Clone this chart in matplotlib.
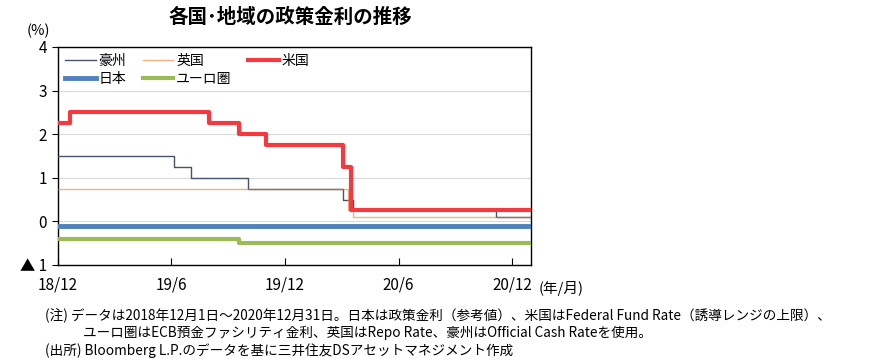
import matplotlib
matplotlib.use("Agg")
import matplotlib.pyplot as plt
import matplotlib.dates as mdates
from datetime import date

plt.rcParams['font.family'] = ['Noto Sans CJK JP', 'DejaVu Sans']

start = date(2018, 12, 1)
end = date(2020, 12, 31)

# policy rate change dates and levels (%)
aus_dates = [date(2018, 12, 1), date(2019, 6, 5), date(2019, 7, 3), date(2019, 10, 2),
             date(2020, 3, 4), date(2020, 3, 20), date(2020, 11, 4)]
aus_rates = [1.50, 1.25, 1.00, 0.75, 0.50, 0.25, 0.10]

uk_dates = [date(2018, 12, 1), date(2020, 3, 11), date(2020, 3, 19)]
uk_rates = [0.75, 0.25, 0.10]

us_dates = [date(2018, 12, 1), date(2018, 12, 20), date(2019, 8, 1), date(2019, 9, 19),
            date(2019, 10, 31), date(2020, 3, 4), date(2020, 3, 16)]
us_rates = [2.25, 2.50, 2.25, 2.00, 1.75, 1.25, 0.25]

jp_dates = [date(2018, 12, 1)]
jp_rates = [-0.10]

eu_dates = [date(2018, 12, 1), date(2019, 9, 18)]
eu_rates = [-0.40, -0.50]

tick_dates = [date(2018, 12, 1), date(2019, 6, 1), date(2019, 12, 1), date(2020, 6, 1), date(2020, 12, 1)]
tick_labels = ['18/12', '19/6', '19/12', '20/6', '20/12']
y_ticks = [-1, 0, 1, 2, 3, 4]
y_labels = ['▲ 1', '0', '1', '2', '3', '4']

fig = plt.figure(figsize=(8.94, 3.64), dpi=100)
ax = fig.add_axes([0.0649, 0.272, 0.529, 0.599])


def draw(ds, rs, **kw):
    # extend last level to end of period
    return ax.step(ds + [end], rs + [rs[-1]], where='post', **kw)[0]


h_aus = draw(aus_dates, aus_rates, color='#44546a', lw=1.0, label='豪州', zorder=3)
h_uk = draw(uk_dates, uk_rates, color='#ed7d31', lw=1.0, alpha=0.6, label='英国', zorder=3)
h_us = draw(us_dates, us_rates, color='#f43a40', lw=3.0, label='米国', zorder=4)
h_jp = draw(jp_dates, jp_rates, color='#4f81bd', lw=3.5, label='日本', zorder=4)
h_eu = draw(eu_dates, eu_rates, color='#9bbb59', lw=3.0, label='ユーロ圏', zorder=4)

ax.set_xlim(start, end)
ax.set_ylim(-1, 4)
ax.set_yticks(y_ticks)
ax.set_yticklabels(y_labels, fontsize=11)
ax.set_xticks([mdates.date2num(d) for d in tick_dates])
ax.set_xticklabels(tick_labels, fontsize=11)
ax.tick_params(axis='x', direction='in', length=5, pad=8)
ax.tick_params(axis='y', direction='out', length=4, pad=4)
for s in ax.spines.values():
    s.set_color('black')
    s.set_linewidth(1.0)
ax.grid(axis='y', color='#d9d9d9', lw=0.8)
ax.set_axisbelow(True)

# column-major order so rows read 豪州 英国 米国 / 日本 ユーロ圏
handles = [h_aus, h_jp, h_uk, h_eu, h_us]
ax.legend(handles, [h.get_label() for h in handles], loc='upper left', ncol=3,
          frameon=False, fontsize=10, handlelength=2.2,
          columnspacing=1.2, handletextpad=0.2, labelspacing=0.3,
          borderaxespad=0.1, bbox_to_anchor=(0.0, 1.0))

fig.text(0.325, 0.953, '各国･地域の政策金利の推移', fontsize=14, fontweight='bold',
         ha='center', va='center')
fig.text(0.043, 0.915, '(%)', fontsize=10.5, ha='center', va='center')
fig.text(0.602, 0.208, '(年/月)', fontsize=10.5, ha='left', va='center')

fig.text(0.05, 0.132, '(注) データは2018年12月1日～2020年12月31日。日本は政策金利（参考値）、米国はFederal Fund Rate（誘導レンジの上限）、',
         fontsize=9.8, ha='left', va='center')
fig.text(0.093, 0.085, 'ユーロ圏はECB預金ファシリティ金利、英国はRepo Rate、豪州はOfficial Cash Rateを使用。',
         fontsize=9.8, ha='left', va='center')
fig.text(0.05, 0.038, '(出所) Bloomberg L.P.のデータを基に三井住友DSアセットマネジメント作成',
         fontsize=9.8, ha='left', va='center')

fig.savefig('out.png', dpi=100)
